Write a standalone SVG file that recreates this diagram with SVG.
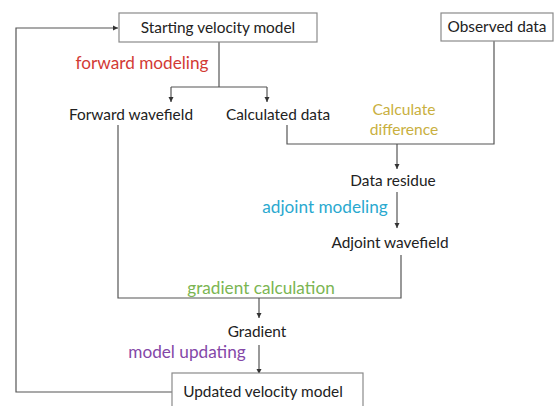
<svg xmlns="http://www.w3.org/2000/svg" width="557" height="406" viewBox="0 0 557 406">
<defs>
<style>
text{font-family:Lato,"Open Sans","Liberation Sans",sans-serif;font-size:15.4px;fill:#222;text-anchor:middle}
.box{fill:#fff;stroke:#8a8a8a;stroke-width:1.2}
.ln{fill:none;stroke:#555;stroke-width:1.2}
.lab{font-size:17.2px}
.red{fill:#d23a35}.gold{fill:#c9b040;font-size:15.6px}.cyan{fill:#2aa9cf}.green{fill:#7bb552}.purple{fill:#8447a8}
</style>
<marker id="ah" markerWidth="6" markerHeight="6" refX="5" refY="3" orient="auto" markerUnits="userSpaceOnUse">
<path d="M0,0.5 L5,3 L0,5.5 Z" fill="#333"/>
</marker>
</defs>
<rect width="557" height="406" fill="#fff"/>
<g id="connectors">
<path class="ln" d="M219,42 V87"/>
<path class="ln" d="M171,87 H267"/>
<path class="ln" d="M171,87 V102" marker-end="url(#ah)"/>
<path class="ln" d="M267,87 V102" marker-end="url(#ah)"/>
<path class="ln" d="M494,41 V144 H287 V125"/>
<path class="ln" d="M397,144 V169" marker-end="url(#ah)"/>
<path class="ln" d="M397,192 V228" marker-end="url(#ah)"/>
<path class="ln" d="M401,255 V298 H118 V125"/>
<path class="ln" d="M259,298 V318" marker-end="url(#ah)"/>
<path class="ln" d="M259,345 V374" marker-end="url(#ah)"/>
<path class="ln" d="M172,392 H16 V28 H118" marker-end="url(#ah)"/>
</g>
<g id="starting">
<rect class="box" x="119" y="13" width="198" height="29"/>
<text x="218" y="33">Starting velocity model</text>
</g>
<g id="observed">
<rect class="box" x="441" y="13" width="112" height="28"/>
<text x="497" y="32">Observed data</text>
</g>
<g id="forward-modeling"><text class="lab red" x="142" y="69">forward modeling</text></g>
<g id="forward-wavefield"><text x="131" y="120">Forward wavefield</text></g>
<g id="calculated-data"><text x="278" y="120">Calculated data</text></g>
<g id="calc-diff"><text class="gold" x="404" y="115">Calculate</text><text class="gold" x="404" y="135">difference</text></g>
<g id="data-residue"><text x="393" y="186">Data residue</text></g>
<g id="adjoint-modeling"><text class="lab cyan" x="325" y="213">adjoint modeling</text></g>
<g id="adjoint-wavefield"><text x="390" y="248">Adjoint wavefield</text></g>
<g id="gradient-calc"><text class="lab green" x="261" y="294">gradient calculation</text></g>
<g id="gradient"><text x="257" y="337">Gradient</text></g>
<g id="model-updating"><text class="lab purple" x="187" y="358">model updating</text></g>
<g id="updated">
<rect class="box" x="172" y="373" width="191" height="40"/>
<text x="263" y="397">Updated velocity model</text>
</g>
</svg>
